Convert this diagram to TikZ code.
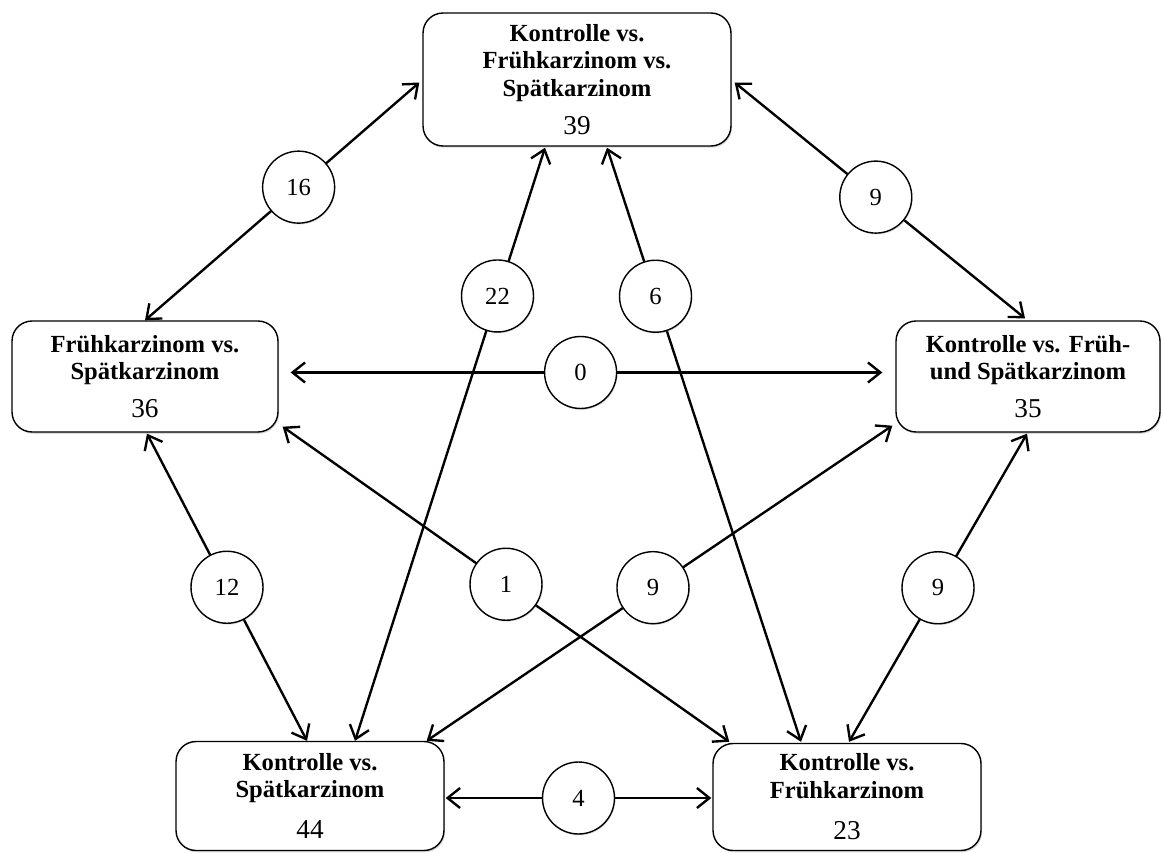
\documentclass[tikz,border=0pt]{standalone}
\usepackage{fontspec}
\setmainfont{Liberation Serif}
\usetikzlibrary{arrows.meta,calc,shadows}

\begin{document}
\begin{tikzpicture}[x=0.02cm,y=-0.02cm,>={Straight Barb[length=2.5mm,width=4mm]},
  box/.style={draw,rounded corners=0.4cm,fill=white,line width=0.8pt,align=center,
    inner sep=0pt,drop shadow={shadow xshift=0.6pt,shadow yshift=-1pt,opacity=0.3},
    font=\fontsize{14}{15.6}\selectfont\bfseries},
  num/.style={draw,circle,fill=white,line width=0.8pt,minimum size=1.44cm,inner sep=0pt,
    drop shadow={shadow xshift=0.5pt,shadow yshift=-0.8pt,opacity=0.25},
    font=\fontsize{14}{16}\selectfont},
  link/.style={<->,line width=1.35pt}]
  \useasboundingbox (0,0) rectangle (1163,852);
  \node[box,minimum width=6.16cm,minimum height=2.66cm] (kfs) at (577,79.5)
    {Kontrolle vs.\\Frühkarzinom vs.\\Spätkarzinom\\[6pt]{\normalfont\fontsize{15.5}{17}\selectfont 39}};
  \node[box,minimum width=5.32cm,minimum height=2.22cm] (fs) at (145,376.5)
    {Frühkarzinom vs.\\Spätkarzinom\\[6pt]{\normalfont\fontsize{15.5}{17}\selectfont 36}};
  \node[box,minimum width=5.28cm,minimum height=2.22cm] (kfus) at (1028,376.5)
    {Kontrolle vs. Früh-\\und Spätkarzinom\\[6pt]{\normalfont\fontsize{15.5}{17}\selectfont 35}};
  \node[box,minimum width=5.36cm,minimum height=2.18cm] (ks) at (310,796)
    {Kontrolle vs.\\Spätkarzinom\\[8pt]{\normalfont\fontsize{15.5}{17}\selectfont 44}};
  \node[box,minimum width=5.36cm,minimum height=2.14cm] (kf) at (847,797)
    {Kontrolle vs.\\Frühkarzinom\\[8pt]{\normalfont\fontsize{15.5}{17}\selectfont 23}};

  \draw[link] (fs.north) -- node[num,pos=0.56] (n16) {16} ($(kfs.west)+(-3,3)$);
  \draw[link] ($(kfs.east)+(3,3)$) -- node[num,pos=0.486] (n9a) {9} ($(kfus.north)+(-3,-2)$);
  \draw[link] ($(kfs.south)+(-32,1)$) -- node[num,pos=0.25] (n22) {22} ($(ks.north)+(45,0)$);
  \draw[link] ($(kfs.south)+(30,1)$) -- node[num,pos=0.25] (n6) {6} ($(kf.north)+(-46,-1)$);
  \draw[link] ($(fs.east)+(12,-4)$) -- node[num,pos=0.49] (n0) {0} ($(kfus.west)+(-13,-4)$);
  \draw[link] ($(fs.south)+(2,1)$) -- node[num,pos=0.5] (n12) {12} ($(ks.north)+(-3,0)$);
  \draw[link] ($(fs.south east)+(4,-6)$) -- node[num,pos=0.5] (n1) {1} ($(kf.north west)+(17,-1)$);
  \draw[link] ($(kfus.south west)+(-3,-7)$) -- node[num,pos=0.514] (n9b) {9} ($(ks.north east)+(-18,0)$);
  \draw[link] ($(kfus.south)+(-1,1)$) -- node[num,pos=0.5] (n9c) {9} ($(kf.north)+(2,-1)$);
  \draw[link] ($(ks.east)+(1,2)$) -- node[num,pos=0.5] (n4) {4} ($(kf.west)+(-1,1)$);
\end{tikzpicture}
\end{document}
